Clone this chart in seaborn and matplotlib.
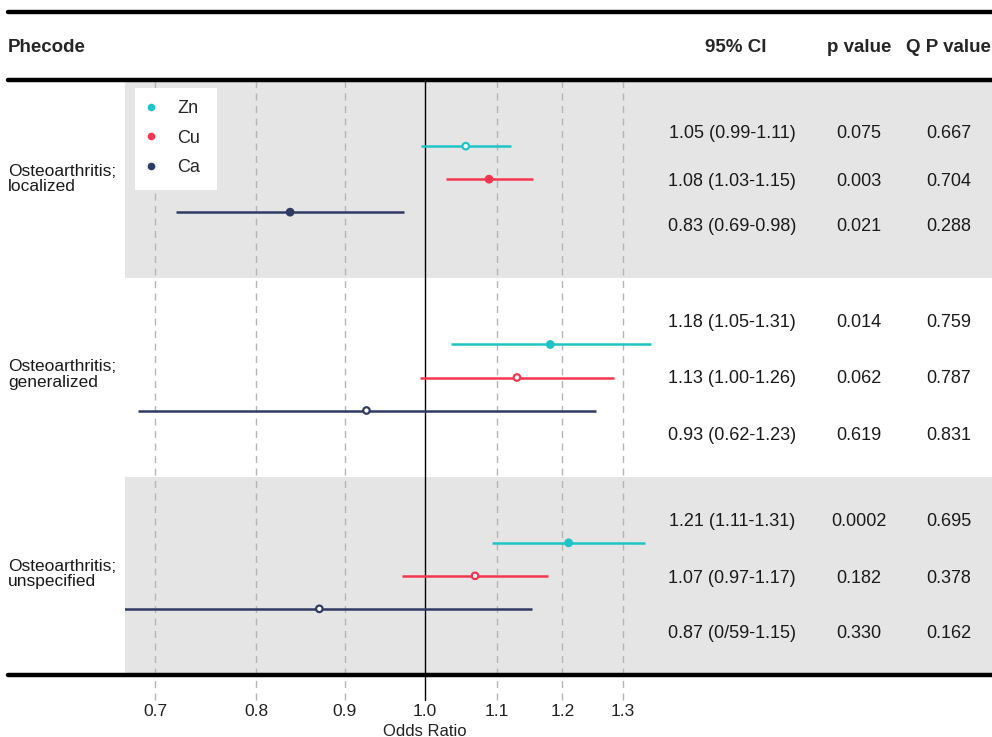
import numpy as np
import pandas as pd
import matplotlib
matplotlib.use("Agg")
import matplotlib.pyplot as plt
import seaborn as sns
from matplotlib.lines import Line2D
from matplotlib.patches import Rectangle
from matplotlib.ticker import NullLocator
from matplotlib.transforms import blended_transform_factory

# ---------------- data ----------------
phecodes = ["Osteoarthritis;\nlocalized", "Osteoarthritis;\ngeneralized", "Osteoarthritis;\nunspecified"]
metals = ["Zn", "Cu", "Ca"]
or_vals = [1.056, 1.089, 0.837, 1.181, 1.130, 0.926, 1.210, 1.069, 0.870]
ci_low = [0.995, 1.029, 0.720, 1.035, 0.994, 0.684, 1.093, 0.970, 0.650]
ci_high = [1.121, 1.154, 0.973, 1.350, 1.285, 1.255, 1.339, 1.178, 1.153]
ci_text = ["1.05 (0.99-1.11)", "1.08 (1.03-1.15)", "0.83 (0.69-0.98)",
           "1.18 (1.05-1.31)", "1.13 (1.00-1.26)", "0.93 (0.62-1.23)",
           "1.21 (1.11-1.31)", "1.07 (0.97-1.17)", "0.87 (0/59-1.15)"]
p_text = ["0.075", "0.003", "0.021", "0.014", "0.062", "0.619", "0.0002", "0.182", "0.330"]
q_text = ["0.667", "0.704", "0.288", "0.759", "0.787", "0.831", "0.695", "0.378", "0.162"]
x_ticks = [0.7, 0.8, 0.9, 1.0, 1.1, 1.2, 1.3]
x_tick_labels = ["0.7", "0.8", "0.9", "1.0", "1.1", "1.2", "1.3"]

palette = {"Zn": "#1FC4C8", "Cu": "#F5364F", "Ca": "#2F3B62"}

# ---------------- layout ----------------
W, H = 992, 737
top_px, bot_px, left_px = 80, 675, 125
band_px = (bot_px - top_px) / 3.0
metal_off = {"Zn": -33 / band_px, "Cu": 0.0, "Ca": 33 / band_px}
text_off = [[-46, 2, 47], [-55, 1, 58], [-54, 3, 58]]
label_off = [0.5, 0.485, 0.49]

rows = []
for i, ph in enumerate(phecodes):
    for j, m in enumerate(metals):
        k = i * 3 + j
        rows.append(dict(row=i, metal=m, OR=or_vals[k], lo=ci_low[k], hi=ci_high[k],
                         p=float(p_text[k]), ypos=i + 0.5 + metal_off[m],
                         ytext=i + 0.5 + text_off[i][j] / band_px))
df = pd.DataFrame(rows)

sns.set_theme(style="white")
plt.rcParams["font.family"] = ["Liberation Sans", "DejaVu Sans"]

fig = plt.figure(figsize=(W / 100, H / 100), dpi=100)
ax = fig.add_axes([left_px / W, (H - bot_px) / H, (W - left_px) / W, (bot_px - top_px) / H])

# bands
for i in (0, 2):
    ax.axhspan(i, i + 1, color="#E5E5E5", lw=0, zorder=0)

# grid lines (extending below as ticks)
xt = ax.get_xaxis_transform()
ext = -25 / (bot_px - top_px)
for t in x_ticks:
    if t == 1.0:
        ax.plot([t, t], [ext, 1], transform=xt, color="black", lw=1.0, clip_on=False, zorder=1)
    else:
        ax.plot([t, t], [ext, 1], transform=xt, color="#B5B5B5", lw=1.0, ls=(0, (5, 4)),
                clip_on=False, zorder=1)

# CI lines
for _, r in df.iterrows():
    ax.hlines(r.ypos, r.lo, r.hi, color=palette[r.metal], lw=1.8, zorder=2)

# points
sig = df[df.p < 0.05]
nonsig = df[df.p >= 0.05]
sns.scatterplot(data=sig, x="OR", y="ypos", hue="metal", hue_order=metals, palette=palette,
                s=40, linewidth=0, legend=False, ax=ax, zorder=3)
sns.scatterplot(data=nonsig, x="OR", y="ypos", hue="metal", hue_order=metals, palette=palette,
                s=22, linewidth=1.6, legend=False, ax=ax, zorder=3)
coll = ax.collections[-1]
fcs = coll.get_facecolors()
coll.set_edgecolors(fcs)
coll.set_facecolors("white")

ax.set_xscale("log")
ax.set_xlim(0.6727, 2.119)
ax.set_ylim(3, 0)
ax.set_xticks(x_ticks)
ax.set_xticklabels(x_tick_labels)
ax.xaxis.set_minor_locator(NullLocator())
ax.set_yticks([])
ax.tick_params(axis="x", length=0, pad=21, labelsize=12.5, colors="#222222")
ax.set_xlabel("Odds Ratio", fontsize=12, color="#222222")
ax.set_ylabel("")
ax.xaxis.set_label_coords((425 - left_px) / (W - left_px), -(731 - bot_px) / (bot_px - top_px))
ax.xaxis.label.set_va("center")
for s in ax.spines.values():
    s.set_visible(False)

# table text
tr = blended_transform_factory(ax.transAxes, ax.transData)
col_x = {"ci": (732 - left_px) / (W - left_px), "p": (859 - left_px) / (W - left_px),
         "q": (949 - left_px) / (W - left_px)}
for k, r in df.iterrows():
    for key, txt in (("ci", ci_text[k]), ("p", p_text[k]), ("q", q_text[k])):
        ax.text(col_x[key], r.ytext, txt, transform=tr, ha="center", va="center",
                fontsize=13, color="#1a1a1a")

# phecode labels
trf = blended_transform_factory(fig.transFigure, ax.transData)
for i, ph in enumerate(phecodes):
    ax.text(8 / W, i + label_off[i], ph, transform=trf, ha="left", va="center", fontsize=12.5,
            linespacing=1.05, color="#1a1a1a")

# headers
hy = 1 - 47 / H
fig.text(8 / W, hy, "Phecode", fontsize=13.5, fontweight="bold", ha="left", va="center")
fig.text(736 / W, hy, "95% CI", fontsize=13.5, fontweight="bold", ha="center", va="center")
fig.text(859 / W, hy, "p value", fontsize=13.5, fontweight="bold", ha="center", va="center")
fig.text(948 / W, hy, "Q P value", fontsize=13.5, fontweight="bold", ha="center", va="center")

# thick rules
for ypx in (12, 79.5, 674.5):
    fig.add_artist(Line2D([8 / W, 1], [1 - ypx / H] * 2, lw=3.2, color="black",
                          transform=fig.transFigure))

# legend: white key box + entries
ax_w, ax_h = W - left_px, bot_px - top_px
ax.add_patch(Rectangle(((135 - left_px) / ax_w, (bot_px - 190) / ax_h),
                       (217 - 135) / ax_w, (190 - 88) / ax_h, transform=ax.transAxes,
                       facecolor="white", edgecolor="none", zorder=4))
handles = [Line2D([], [], marker="o", ls="", color=palette[m], ms=5.5, markeredgewidth=0) for m in metals]
leg = ax.legend(handles, metals, loc="upper left",
                bbox_to_anchor=((135 - left_px) / ax_w, (bot_px - 88) / ax_h),
                frameon=False, borderpad=0.68, labelspacing=0.69, handletextpad=1.2,
                handlelength=0.45, fontsize=13, borderaxespad=0)
leg.set_zorder(5)

fig.savefig("out.png", dpi=100)
